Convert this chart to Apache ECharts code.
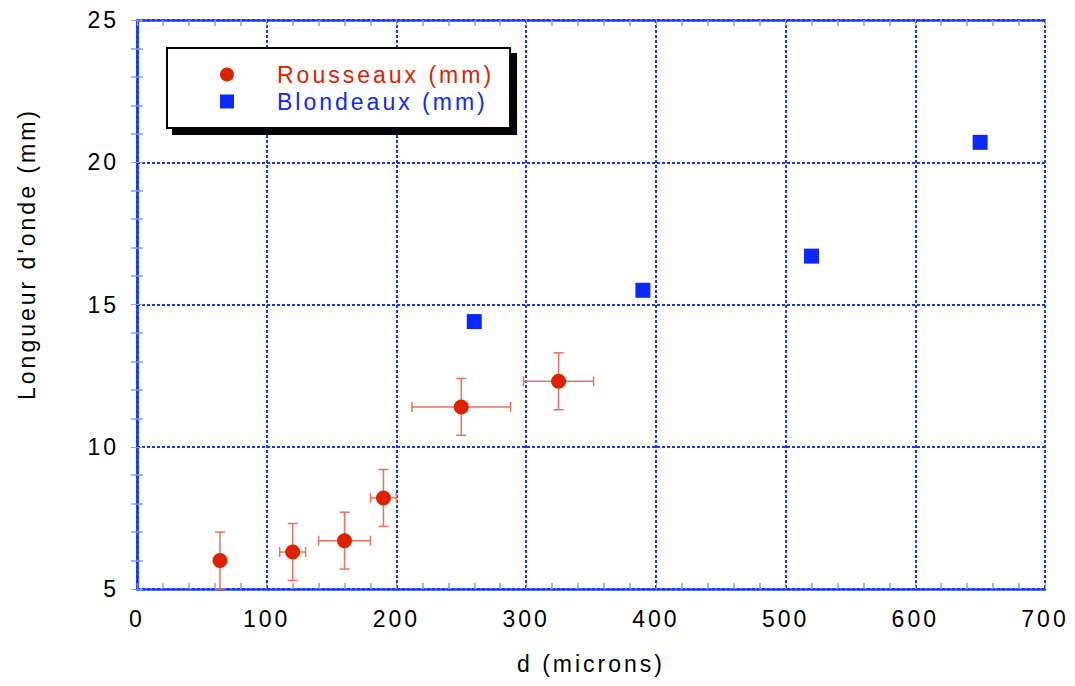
<!DOCTYPE html>
<html>
<head>
<meta charset="utf-8">
<script src="https://cdn.jsdelivr.net/npm/echarts@6/dist/echarts.min.js"></script>
<style>
  html, body { margin: 0; padding: 0; background: #fff; }
  #chart { width: 1075px; height: 686px; }
  /* la police d'origine est très espacée */
  #chart text { letter-spacing: 3px; }
</style>
</head>
<body>
<div id="chart"></div>
<script>
// données
const rousseauxX = [64, 120, 160, 190, 250, 325];
const rousseauxY = [6.0, 6.3, 6.7, 8.2, 11.4, 12.3];
const rousseauxXErr = [0, 10, 20, 10, 38, 27];
const rousseauxYErr = [1, 1, 1, 1, 1, 1];

const blondeauxX = [260, 390, 520, 650];
const blondeauxY = [14.4, 15.5, 16.7, 20.7];

const xTicks = [0, 100, 200, 300, 400, 500, 600, 700];
const yTicks = [5, 10, 15, 20, 25];

const colors = {
    red: '#dd2200',
    errBar: '#e8705c',
    blue: '#0a28ff',
    grid: '#1436ff',
    minor: '#8a98ff',
    text: '#000000'
};
const font = 'Liberation Sans, Arial, sans-serif';

const chart = echarts.init(document.getElementById('chart'), null, { renderer: 'svg' });

const axisLine = { show: true, lineStyle: { color: colors.grid, width: 2.5, type: [3, 2] } };
const splitLine = { show: true, lineStyle: { color: colors.grid, width: 2, type: [3, 2] } };

function baseX(extra) {
    return Object.assign({
        type: 'value',
        min: xTicks[0],
        max: xTicks[xTicks.length - 1],
        interval: 100,
        axisLine: axisLine,
        axisTick: { show: true, inside: true, length: 6, lineStyle: { color: colors.minor } },
        minorTick: { show: true, splitNumber: 5, length: 6, lineStyle: { color: colors.minor, width: 1.5 } },
        splitLine: { show: false }
    }, extra);
}

function baseY(extra) {
    return Object.assign({
        type: 'value',
        min: yTicks[0],
        max: yTicks[yTicks.length - 1],
        interval: 5,
        axisLine: axisLine,
        axisTick: { show: true, inside: true, length: 6, lineStyle: { color: colors.minor } },
        minorTick: { show: true, splitNumber: 5, length: 6, lineStyle: { color: colors.minor, width: 1.5 } },
        splitLine: { show: false }
    }, extra);
}

const errData = rousseauxX.map((x, i) => [x, rousseauxY[i], rousseauxXErr[i], rousseauxYErr[i]]);

function renderErr(params, api) {
    const x = api.value(0), y = api.value(1), ex = api.value(2), ey = api.value(3);
    const cap = 5;
    const style = { stroke: colors.errBar, lineWidth: 1.5 };
    const children = [];
    if (ey > 0) {
        const top = api.coord([x, y + ey]);
        const bot = api.coord([x, y - ey]);
        children.push({ type: 'line', shape: { x1: top[0], y1: top[1], x2: bot[0], y2: bot[1] }, style: style });
        children.push({ type: 'line', shape: { x1: top[0] - cap, y1: top[1], x2: top[0] + cap, y2: top[1] }, style: style });
        children.push({ type: 'line', shape: { x1: bot[0] - cap, y1: bot[1], x2: bot[0] + cap, y2: bot[1] }, style: style });
    }
    if (ex > 0) {
        const l = api.coord([x - ex, y]);
        const r = api.coord([x + ex, y]);
        children.push({ type: 'line', shape: { x1: l[0], y1: l[1], x2: r[0], y2: r[1] }, style: style });
        children.push({ type: 'line', shape: { x1: l[0], y1: l[1] - cap, x2: l[0], y2: l[1] + cap }, style: style });
        children.push({ type: 'line', shape: { x1: r[0], y1: r[1] - cap, x2: r[0], y2: r[1] + cap }, style: style });
    }
    return { type: 'group', children: children };
}

const option = {
    backgroundColor: '#fff',
    animation: false,
    textStyle: { fontFamily: font },
    grid: { left: 137, right: 30, top: 20, bottom: 97 },
    legend: {
        orient: 'vertical',
        left: 167,
        top: 48,
        padding: [13, 0, 13, 53],
        itemGap: 0,
        itemWidth: 14,
        itemHeight: 14,
        backgroundColor: '#fff',
        borderColor: '#000',
        borderWidth: 2,
        shadowColor: '#000',
        shadowBlur: 0,
        shadowOffsetX: 6,
        shadowOffsetY: 6,
        formatter: name => '{t|' + name + '}',
        textStyle: {
            fontFamily: font,
            fontSize: 23,
            lineHeight: 27,
            rich: { t: { fontSize: 23, lineHeight: 27, padding: [0, 58, 0, 38] } }
        },
        data: [
            { name: 'Rousseaux (mm)', textStyle: { color: colors.red } },
            { name: 'Blondeaux (mm)', textStyle: { color: colors.blue } }
        ]
    },
    xAxis: [
        baseX({
            position: 'bottom',
            splitLine: splitLine,
            axisLabel: { color: colors.text, fontSize: 23, margin: 18, fontFamily: font }
        }),
        baseX({ position: 'top', axisLabel: { show: false } })
    ],
    yAxis: [
        baseY({
            position: 'left',
            splitLine: splitLine,
            axisLabel: { color: colors.text, fontSize: 23, margin: 18, fontFamily: font }
        }),
        baseY({ position: 'right', axisLabel: { show: false } })
    ],
    graphic: [
        {
            type: 'text', x: 591, y: 652,
            style: {
                text: 'd (microns)', fontSize: 23, fontFamily: font, fill: colors.text,
                align: 'center', verticalAlign: 'top'
            }
        },
        {
            type: 'text', x: 15, y: 254, rotation: Math.PI / 2,
            style: {
                text: "Longueur d'onde (mm)", fontSize: 23, fontFamily: font, fill: colors.text,
                align: 'center', verticalAlign: 'top'
            }
        }
    ],
    series: [
        {
            name: 'erreurs',
            type: 'custom',
            xAxisIndex: 0,
            yAxisIndex: 0,
            renderItem: renderErr,
            data: errData,
            z: 2,
            silent: true
        },
        {
            name: 'Rousseaux (mm)',
            type: 'scatter',
            symbol: 'circle',
            symbolSize: 15,
            itemStyle: { color: colors.red, opacity: 1 },
            data: rousseauxX.map((x, i) => [x, rousseauxY[i]]),
            z: 3
        },
        {
            name: 'Blondeaux (mm)',
            type: 'scatter',
            symbol: 'rect',
            symbolSize: 15,
            itemStyle: { color: colors.blue, opacity: 1 },
            data: blondeauxX.map((x, i) => [x, blondeauxY[i]]),
            z: 3
        }
    ]
};

chart.setOption(option);
</script>
</body>
</html>
